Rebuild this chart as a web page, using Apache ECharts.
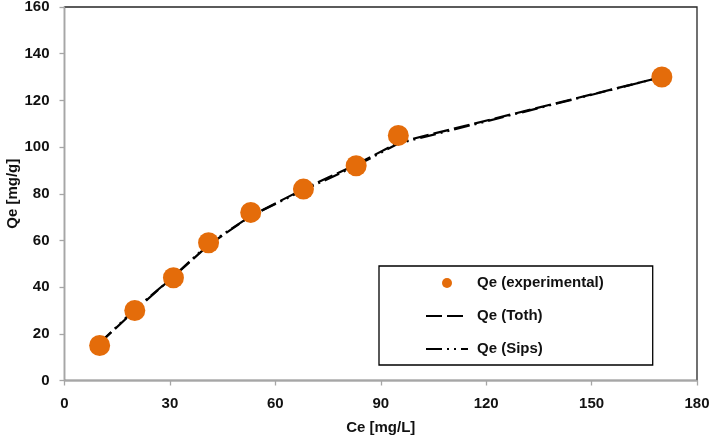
<!DOCTYPE html>
<html>
<head>
<meta charset="utf-8">
<script src="https://cdn.jsdelivr.net/npm/echarts@6/dist/echarts.min.js"></script>
<style>
html,body{margin:0;padding:0;background:#fff;}
#c{width:709px;height:438px;}
</style>
</head>
<body>
<div id="c"></div>
<script>
// Data
var ceExp = [10, 20, 31, 41, 53, 68, 83, 95, 170];
var qeExp = [15, 30, 44, 59, 72, 82, 92, 105, 130];
var qeToth = [16, 30, 44.5, 58, 70.5, 82, 92.5, 102, 130];
var qeSips = [16, 30.5, 44.5, 58.5, 70.5, 81.5, 92, 101.5, 130];
var xTicks = [0, 30, 60, 90, 120, 150, 180];
var yTicks = [0, 20, 40, 60, 80, 100, 120, 140, 160];

function pairs(xs, ys) { return xs.map(function (x, i) { return [x, ys[i]]; }); }

var FONT = '"Liberation Sans", Arial, sans-serif';
var TXT = '#111111';
var chart = echarts.init(document.getElementById('c'), null, { renderer: 'canvas' });
chart.setOption({
  animation: false,
  backgroundColor: '#ffffff',
  grid: {
    left: 64.5, right: 12, top: 7, bottom: 57.5,
    containLabel: false, outerBoundsMode: 'none',
    show: true, borderColor: '#262626', borderWidth: 1.3, backgroundColor: 'transparent'
  },
  xAxis: {
    type: 'value',
    min: xTicks[0], max: xTicks[xTicks.length - 1], interval: 30,
    name: 'Ce [mg/L]', nameLocation: 'middle', nameGap: 40, nameMoveOverlap: false,
    nameTextStyle: { fontFamily: FONT, fontWeight: 'bold', fontSize: 15, color: TXT },
    axisLine: { show: true, lineStyle: { color: '#a6a6a6', width: 1.3 } },
    axisTick: { show: true, length: 5, lineStyle: { color: '#a6a6a6', width: 1.3 } },
    axisLabel: { margin: 16, fontFamily: FONT, fontWeight: 'bold', fontSize: 15, color: TXT },
    splitLine: { show: false }
  },
  yAxis: {
    type: 'value',
    min: yTicks[0], max: yTicks[yTicks.length - 1], interval: 20,
    name: 'Qe [mg/g]', nameLocation: 'middle', nameGap: 44, nameMoveOverlap: false,
    nameTextStyle: { fontFamily: FONT, fontWeight: 'bold', fontSize: 15, color: TXT },
    axisLine: { show: true, lineStyle: { color: '#a6a6a6', width: 1.3 } },
    axisTick: { show: true, length: 5, lineStyle: { color: '#a6a6a6', width: 1.3 } },
    axisLabel: { margin: 15, fontFamily: FONT, fontWeight: 'bold', fontSize: 15, color: TXT },
    splitLine: { show: false }
  },
  legend: {
    orient: 'vertical',
    left: 379, top: 266,
    padding: [9, 49, 8, 46],
    itemWidth: 42, itemHeight: 10, itemGap: 17,
    borderColor: '#000', borderWidth: 1.3,
    textStyle: { fontFamily: FONT, fontWeight: 'bold', fontSize: 15, lineHeight: 16, color: TXT, padding: [0, 0, 0, 4] },
    data: [
      { name: 'Qe (experimental)', icon: 'circle' },
      { name: 'Qe (Toth)', itemStyle: { opacity: 0 } },
      { name: 'Qe (Sips)', itemStyle: { opacity: 0 } }
    ]
  },
  series: [
    {
      name: 'Qe (Toth)', type: 'line', data: pairs(ceExp, qeToth),
      symbol: 'none', z: 2,
      lineStyle: { color: '#000', width: 2.2, type: [16, 5] },
      itemStyle: { color: '#000' }
    },
    {
      name: 'Qe (Sips)', type: 'line', data: pairs(ceExp, qeSips),
      symbol: 'none', z: 2,
      lineStyle: { color: '#000', width: 2.2, type: [16, 5, 2, 5, 2, 5] },
      itemStyle: { color: '#000' }
    },
    {
      name: 'Qe (experimental)', type: 'scatter', data: pairs(ceExp, qeExp),
      symbol: 'circle', symbolSize: 21, z: 5,
      itemStyle: { color: '#e46c0a', opacity: 1 }
    }
  ]
});
</script>
</body>
</html>
